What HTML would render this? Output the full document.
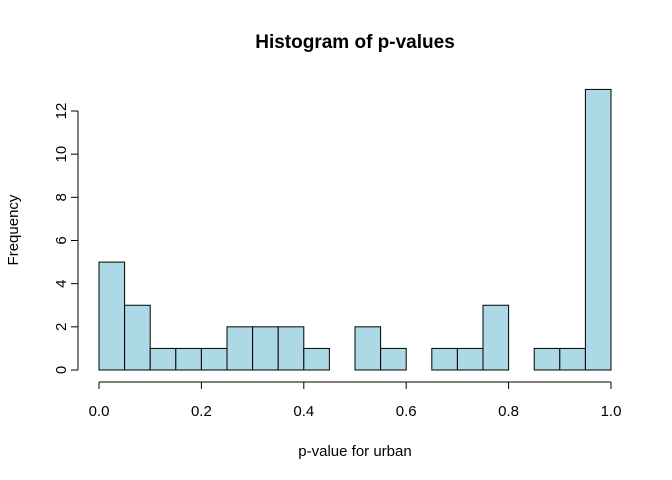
<!DOCTYPE html>
<html><head><meta charset="utf-8"><style>
body{margin:0;background:#fff}
svg{display:block;font-family:"Liberation Sans",Arial,sans-serif}
</style></head><body>
<svg id="chart" width="672" height="480">
<text x="355" y="48" text-anchor="middle" font-size="19" font-weight="bold">Histogram of p-values</text>
<text x="355" y="456" text-anchor="middle" font-size="15">p-value for urban</text>
<text transform="translate(18,230) rotate(-90)" text-anchor="middle" font-size="15">Frequency</text>
<g id="bars"></g><g id="xaxis"></g><g id="yaxis"></g>
</svg>
<script>
const counts=[5,3,1,1,1,2,2,2,1,0,2,1,0,1,1,3,0,1,1,13];
const binStart=0, binWidth=0.05;
const xTicks=[0,0.2,0.4,0.6,0.8,1.0];
const xTickLabels=["0.0","0.2","0.4","0.6","0.8","1.0"];
const yTicks=[0,2,4,6,8,10,12];
const NS="http://www.w3.org/2000/svg";
const X=v=>99+v*512, Y=v=>370-v*(259/12);
function mk(t,a,p){const e=document.createElementNS(NS,t);for(const k in a)e.setAttribute(k,a[k]);p.appendChild(e);return e;}
const bars=document.getElementById('bars');
counts.forEach((c,i)=>{if(c<=0)return;const x0=X(binStart+i*binWidth),x1=X(binStart+(i+1)*binWidth);
const r=mk('rect',{x:x0,y:Y(c),width:x1-x0,height:Y(0)-Y(c),fill:'#add8e6',stroke:'#000','stroke-width':1},bars);

});
const xa=document.getElementById('xaxis');

mk('line',{x1:X(xTicks[0]),x2:X(xTicks[xTicks.length-1]),y1:382,y2:382,stroke:'#000'},xa);
xTicks.forEach((t,i)=>{mk('line',{x1:X(t),x2:X(t),y1:382,y2:389,stroke:'#000'},xa);
const tx=mk('text',{x:X(t),y:416,'text-anchor':'middle','font-size':15},xa);tx.textContent=xTickLabels[i];

});
const ya=document.getElementById('yaxis');

mk('line',{x1:78,x2:78,y1:Y(yTicks[0]),y2:Y(yTicks[yTicks.length-1]),stroke:'#000'},ya);
yTicks.forEach(t=>{mk('line',{x1:71,x2:78,y1:Y(t),y2:Y(t),stroke:'#000'},ya);
const tx=mk('text',{transform:`translate(66,${Y(t)}) rotate(-90)`,'text-anchor':'middle','font-size':15},ya);tx.textContent=t;

});
</script>
</body></html>
